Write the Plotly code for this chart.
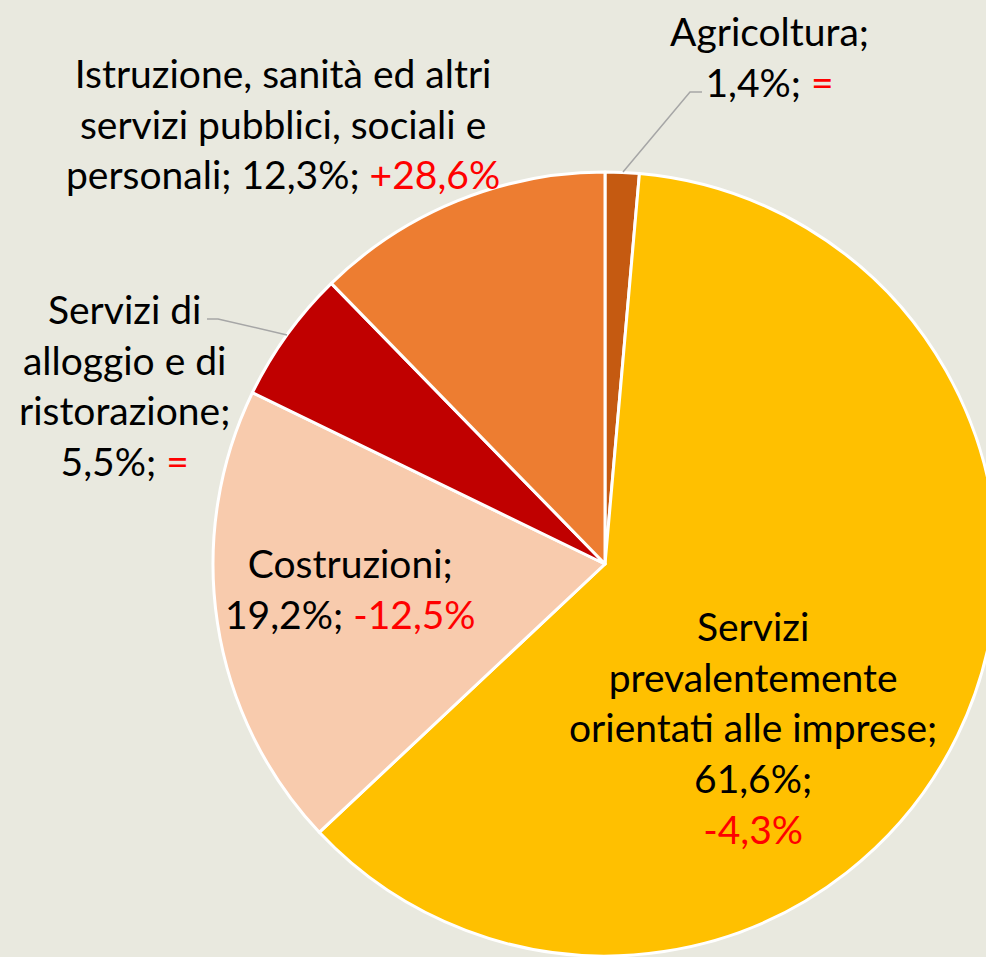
import plotly.graph_objects as go

# ---- data ----
sectors = [
    "Agricoltura",
    "Servizi prevalentemente orientati alle imprese",
    "Costruzioni",
    "Servizi di alloggio e di ristorazione",
    "Istruzione, sanità ed altri servizi pubblici, sociali e personali",
]
shares = [1.4, 61.6, 19.2, 5.5, 12.3]
changes = ["=", "-4,3%", "-12,5%", "=", "+28,6%"]

# wrapped display names (line breaks as in the original labels)
wrapped = [
    "Agricoltura;",
    "Servizi<br>prevalentemente<br>orientati alle imprese;",
    "Costruzioni;",
    "Servizi di<br>alloggio e di<br>ristorazione;",
    "Istruzione, sanità ed altri<br>servizi pubblici, sociali e<br>personali;",
]
sep_after_name = ["<br>", "<br>", "<br>", "<br>", " "]
sep_before_change = [" ", "<br>", " ", " ", " "]

colors = ["#C55A11", "#FFC000", "#F8CBAD", "#C00000", "#ED7D31"]

W, H = 998, 957
BG = "#E9E9DF"
FONT = "Lato"
FS = 39


def fmt(v):
    return f"{v:.1f}".replace(".", ",") + "%"


def px(x):
    return x / W


def py(y):
    return 1 - y / H


fig = go.Figure()
fig.add_trace(go.Pie(
    labels=sectors,
    values=shares,
    sort=False,
    direction="clockwise",
    rotation=0,
    marker=dict(colors=colors, line=dict(color="#FFFFFF", width=3)),
    textinfo="none",
    hoverinfo="label+percent",
    showlegend=False,
    domain=dict(x=[px(213), px(997)], y=[py(956), py(172)]),
))

# label anchor positions (pixel centres of each label block)
label_pos = [(769, 56), (753, 727), (350, 588), (125, 385), (283, 124)]

for i in range(len(sectors)):
    txt = (wrapped[i] + sep_after_name[i] + fmt(shares[i]) + ";" + sep_before_change[i]
           + f"<span style='color:#FF0000'>{changes[i]}</span>")
    cx, cy = label_pos[i]
    fig.add_annotation(
        x=px(cx), y=py(cy), xref="paper", yref="paper",
        text=txt, showarrow=False, xanchor="center", yanchor="middle",
        align="center", font=dict(family=FONT, size=FS, color="#000000"),
    )

# leader lines
leader_color = "#A6A6A6"
for pts in ([(623, 172), (690, 92), (702, 92)], [(287, 335), (218, 319), (207, 319)]):
    path = "M " + " L ".join(f"{px(a)},{py(b)}" for a, b in pts)
    fig.add_shape(type="path", path=path, xref="paper", yref="paper",
                  line=dict(color=leader_color, width=1.5))

fig.update_layout(
    width=W, height=H,
    margin=dict(l=0, r=0, t=0, b=0),
    paper_bgcolor=BG, plot_bgcolor=BG,
    font=dict(family=FONT),
)

fig.write_html(
    "out.html",
    config={"displayModeBar": False},
    post_script="document.body.style.margin='0';document.body.style.overflow='hidden';",
)
